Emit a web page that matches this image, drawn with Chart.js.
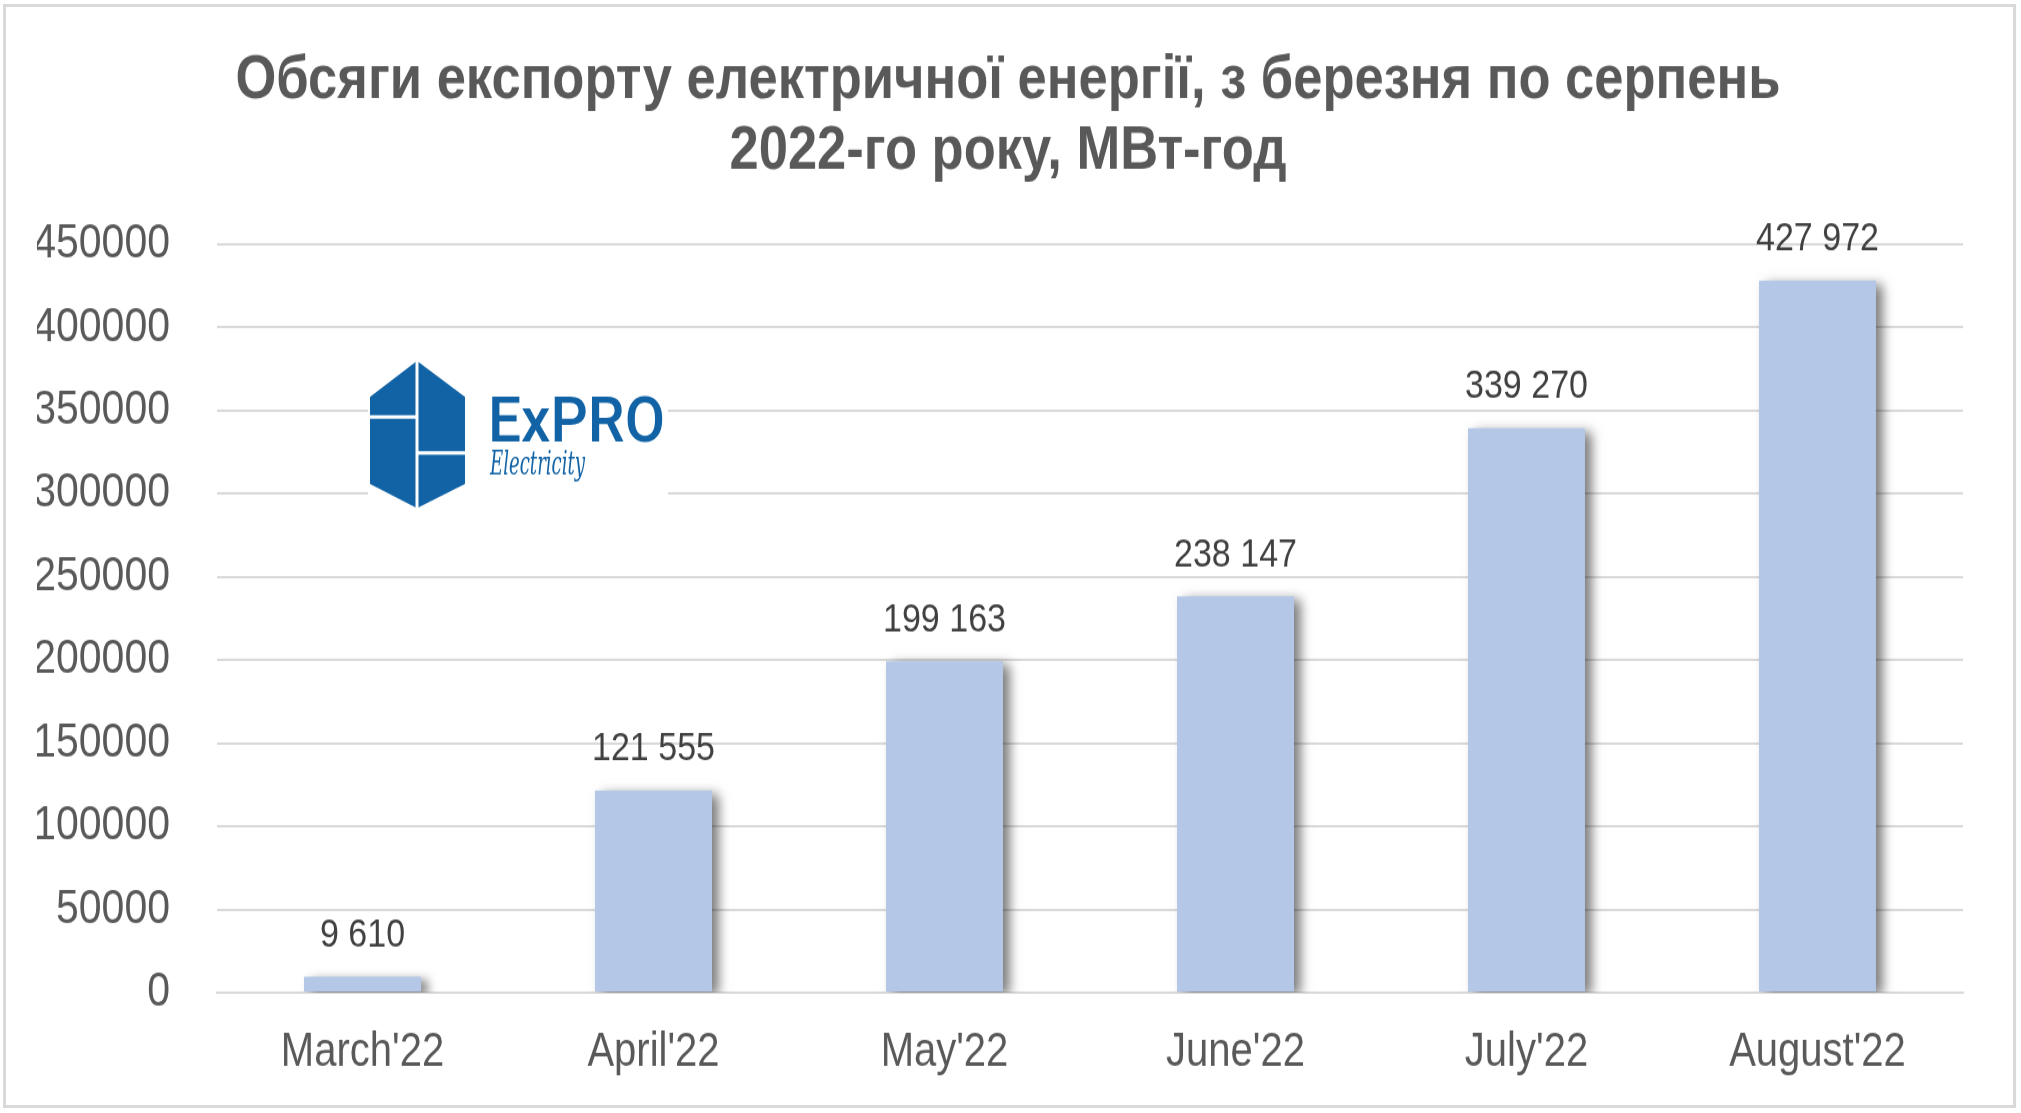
<!DOCTYPE html>
<html>
<head>
<meta charset="utf-8">
<script src="https://cdn.jsdelivr.net/npm/chart.js@4.4.0/dist/chart.umd.min.js"></script>
<style>
html, body { margin: 0; padding: 0; background: #fff; overflow: hidden; }
#wrap { position: absolute; left: 0; top: 0; width: 2021px; height: 943px; transform-origin: 0 0; transform: scaleY(1.1803); }
#frame { position: absolute; left: 3px; top: 4px; width: 2013px; height: 1104px; border: 3px solid #d9d9d9; box-sizing: border-box; pointer-events: none; }
</style>
</head>
<body>
<div id="wrap"><canvas id="exportChart" width="2021" height="943"></canvas></div>
<div id="frame"></div>
<script>
var months = ["March'22", "April'22", "May'22", "June'22", "July'22", "August'22"];
var exportMWh = [9610, 121555, 199163, 238147, 339270, 427972];
var titleLines = ['Обсяги експорту електричної енергії, з березня по серпень', '2022-го року, МВт-год'];

var S = 1113 / 943;   // the picture is stretched vertically

function fmt(v) {
    return String(v).replace(/\B(?=(\d{3})+(?!\d))/g, ' ');
}

// ExPro logo on a white patch over the grid
var logo = {
    id: 'logo',
    beforeDatasetsDraw: function (chart) {
        var c = chart.ctx;
        function Y(v) { return v / S; }
        c.save();
        c.fillStyle = '#fff';
        c.fillRect(368, Y(354), 300, Y(513) - Y(354));
        c.fillStyle = '#1163a6';
        c.beginPath();
        c.moveTo(417, Y(361));
        c.lineTo(465, Y(397));
        c.lineTo(465, Y(484));
        c.lineTo(417, Y(508));
        c.lineTo(370, Y(484));
        c.lineTo(370, Y(397));
        c.closePath();
        c.fill();
        c.strokeStyle = '#fff';
        c.lineWidth = 3;
        c.beginPath();
        c.moveTo(417, Y(355)); c.lineTo(417, Y(512));
        c.moveTo(368, Y(417)); c.lineTo(417, Y(417));
        c.moveTo(417, Y(453)); c.lineTo(468, Y(453));
        c.stroke();
        c.fillStyle = '#1163a6';
        c.textBaseline = 'alphabetic';
        c.font = '500 54px Roboto';
        var w = c.measureText('ExPRO').width;
        c.save();
        c.translate(488, Y(442));
        c.scale(177 / w, 1);
        c.fillText('ExPRO', 0, 0);
        c.restore();
        c.font = 'italic 27px "DejaVu Serif"';
        var w2 = c.measureText('Electricity').width;
        c.save();
        c.translate(490, Y(474));
        c.scale(95 / w2, 1);
        c.fillText('Electricity', 0, 0);
        c.restore();
        c.restore();
    }
};

var barShadow = {
    id: 'barShadow',
    beforeDatasetsDraw: function (chart) {
        var c = chart.ctx;
        c.save();
        c.shadowColor = 'rgba(0,0,0,0.5)';
        c.shadowBlur = 10;
        c.shadowOffsetX = 7;
        c.shadowOffsetY = 3;
    },
    afterDatasetsDraw: function (chart) {
        chart.ctx.restore();
    }
};

var barLabels = {
    id: 'barLabels',
    afterDatasetsDraw: function (chart) {
        var c = chart.ctx;
        var meta = chart.getDatasetMeta(0);
        c.save();
        c.font = '34px "Liberation Sans"';
        c.fillStyle = '#404040';
        c.textAlign = 'center';
        c.textBaseline = 'middle';
        meta.data.forEach(function (bar, i) {
            c.fillText(fmt(exportMWh[i]), bar.x, bar.y - 35);
        });
        c.restore();
    }
};

var ctx = document.getElementById('exportChart').getContext('2d');
var chart = new Chart(ctx, {
    type: 'bar',
    data: {
        labels: months,
        datasets: [{
            label: 'MWh',
            data: exportMWh,
            backgroundColor: '#b4c7e7',
            categoryPercentage: 1,
            barPercentage: 0.402
        }]
    },
    options: {
        responsive: false,
        animation: false,
        layout: { padding: { left: 37, right: 42, top: 0, bottom: 0 } },
        plugins: {
            legend: { display: false },
            tooltip: { enabled: false },
            title: {
                display: true,
                text: titleLines,
                color: '#595959',
                font: { family: '"Liberation Sans"', size: 52.5, weight: 'bold', lineHeight: 1.15 },
                padding: { top: 38, bottom: 48 }
            }
        },
        scales: {
            x: {
                grid: { display: false, drawTicks: false },
                border: { display: true, color: '#d9d9d9', width: 2 },
                ticks: { color: '#595959', padding: 29, font: { family: '"Liberation Sans"', size: 40, lineHeight: 1.1 } }
            },
            y: {
                min: 0,
                max: 450000,
                afterFit: function (scale) { scale.width = 180; },
                grid: { color: '#d9d9d9', lineWidth: 2, drawTicks: false },
                border: { display: false },
                ticks: {
                    stepSize: 50000,
                    color: '#595959',
                    padding: 47,
                    font: { family: '"Liberation Sans"', size: 41 },
                    callback: function (v) { return String(v); }
                }
            },
            // empty right margin box, keeps the title centred like the original
            yRight: {
                position: 'right',
                min: 0,
                max: 450000,
                afterFit: function (scale) { scale.width = 16; },
                grid: { display: false },
                border: { display: false },
                ticks: { display: false }
            }
        }
    },
    plugins: [logo, barShadow, barLabels]
});
</script>
</body>
</html>
